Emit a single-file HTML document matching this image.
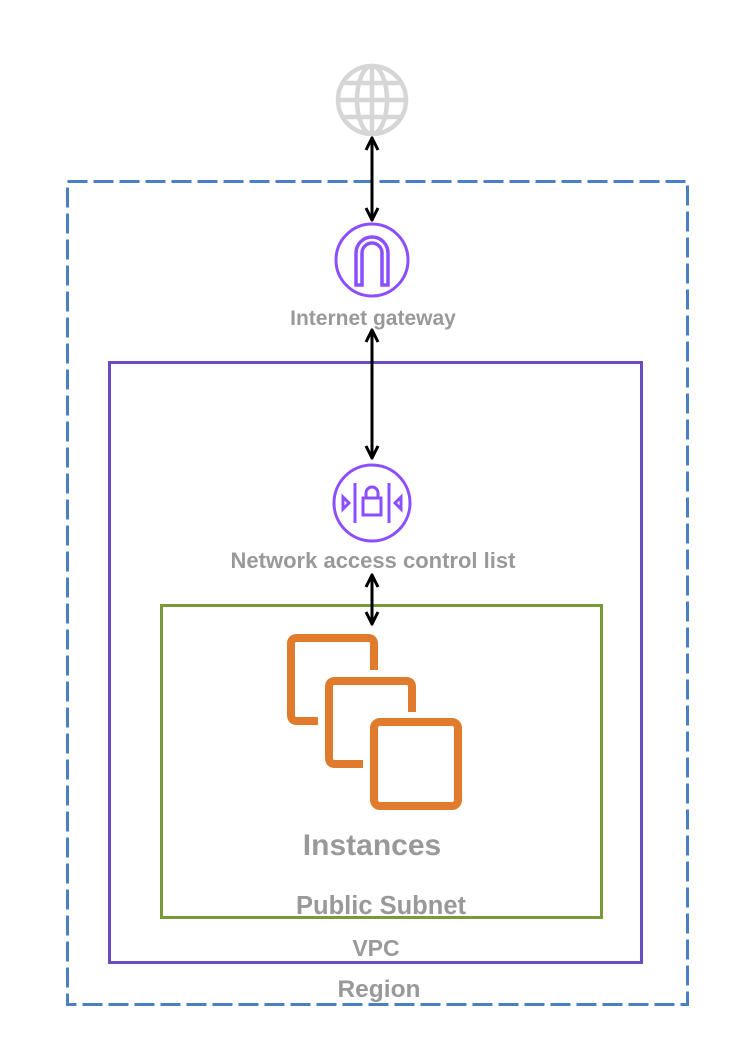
<!DOCTYPE html>
<html><head><meta charset="utf-8"><style>
html,body{margin:0;padding:0;background:#fff;}
svg{display:block;}
text{font-family:"Liberation Sans",sans-serif;font-weight:bold;fill:#999;text-anchor:middle;}
</style></head><body>
<svg width="742" height="1060" viewBox="0 0 742 1060" xmlns="http://www.w3.org/2000/svg">
<defs>
<marker id="ah" viewBox="0 0 10 10" refX="9" refY="5" markerWidth="5" markerHeight="5" orient="auto-start-reverse">
<path d="M1,1 L9,5 L1,9" fill="none" stroke="#000" stroke-width="2"/>
</marker>
</defs>
<rect x="67.5" y="181.5" width="620" height="823" fill="none" stroke="#4a7fc4" stroke-width="3" stroke-dasharray="20 6"/>
<rect x="109.5" y="362.5" width="532" height="600" fill="none" stroke="#6a4cc0" stroke-width="3"/>
<rect x="161.5" y="605.5" width="440" height="312" fill="none" stroke="#7a9a3a" stroke-width="3"/>

<g fill="none" stroke="#d6d6d6" stroke-width="4.5">
<circle cx="372" cy="100" r="34"/>
<ellipse cx="372" cy="100" rx="15" ry="34"/>
<line x1="372" y1="66" x2="372" y2="134"/>
<line x1="338" y1="100" x2="406" y2="100"/>
<line x1="343" y1="83" x2="401" y2="83"/>
<line x1="343" y1="117" x2="401" y2="117"/>
</g>

<g stroke="#000" stroke-width="3" marker-start="url(#ah)" marker-end="url(#ah)">
<line x1="372" y1="138" x2="372" y2="220"/>
<line x1="372" y1="330" x2="372" y2="458"/>
<line x1="372" y1="575" x2="372" y2="624"/>
</g>

<circle cx="372" cy="260" r="36" fill="none" stroke="#8c4fff" stroke-width="3"/>
<path d="M356,285 V253 A16,16 0 0 1 388,253 V285 H382 V253 A10,10 0 0 0 362,253 V285 Z" fill="none" stroke="#8c4fff" stroke-width="3.5"/>
<text x="373" y="325" font-size="21">Internet gateway</text>

<circle cx="372" cy="503" r="38" fill="none" stroke="#8c4fff" stroke-width="3"/>
<g fill="none" stroke="#8c4fff" stroke-width="3">
<line x1="355" y1="483" x2="355" y2="523"/>
<line x1="389" y1="483" x2="389" y2="523"/>
<path d="M343,497 L349,503 L343,509 Z"/>
<path d="M401,497 L395,503 L401,509 Z"/>
<rect x="363" y="498" width="18" height="17"/>
<path d="M366,498 V493 A6,6 0 0 1 378,493 V498"/>
</g>
<text x="373" y="568" font-size="22">Network access control list</text>

<g fill="none" stroke="#e07b2e" stroke-width="8">
<path d="M318,721 H297 Q291,721 291,715 V644 Q291,638 297,638 H368 Q374,638 374,644 V670"/>
<path d="M363,764 H335 Q329,764 329,758 V687 Q329,681 335,681 H406 Q412,681 412,687 V712"/>
<rect x="374" y="722" width="84" height="84" rx="6"/>
</g>
<text x="372" y="855" font-size="30">Instances</text>
<text x="381" y="914" font-size="25.5">Public Subnet</text>
<text x="376" y="956" font-size="23">VPC</text>
<text x="379" y="997" font-size="24.5">Region</text>
</svg>
</body></html>
